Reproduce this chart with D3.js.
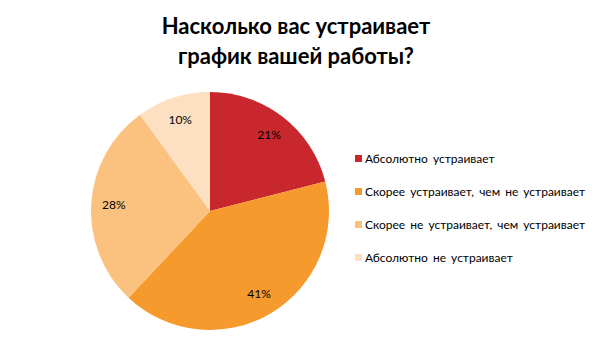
<!DOCTYPE html>
<html><head><meta charset="utf-8">
<script src="https://cdn.jsdelivr.net/npm/d3@7"></script>
<style>body{margin:0;background:#fff}</style>
</head><body>
<svg id="c" width="592" height="356"></svg>
<script>
const categories = ["Абсолютно устраивает","Скорее устраивает, чем не устраивает","Скорее не устраивает, чем устраивает","Абсолютно не устраивает"];
const values = [21, 41, 28, 10];
const colors = ["#C9272E","#F79A2E","#FBC27F","#FDDFC1"];
const titleLines = ["Насколько вас устраивает","график вашей работы?"];

const svg = d3.select("#c");
const font = "Lato, 'Open Sans', sans-serif";
svg.append("g").selectAll("text").data(titleLines).join("text")
  .attr("x", 296).attr("y", (d,i)=>34+i*30)
  .attr("text-anchor","middle").attr("font-family",font).attr("font-weight","bold")
  .attr("font-size",22).attr("fill","#000").text(d=>d);

const cx=210, cy=211, r=119;
const pie = d3.pie().sort(null).value(d=>d)(values);
const arc = d3.arc().innerRadius(0).outerRadius(r);
const labelArc = d3.arc().innerRadius(r*0.81).outerRadius(r*0.81);
const g = svg.append("g").attr("transform",`translate(${cx},${cy})`);
g.selectAll("path").data(pie).join("path").attr("d",arc).attr("fill",(d,i)=>colors[i]);
g.selectAll("text").data(pie).join("text")
  .attr("transform",d=>`translate(${labelArc.centroid(d)})`)
  .attr("text-anchor","middle").attr("dy","0.35em")
  .attr("font-family",font).attr("font-size",12).attr("fill","#000")
  .text(d=>d.data+"%");

const leg = svg.append("g").attr("transform","translate(355,159)");
const items = leg.selectAll("g").data(categories).join("g").attr("transform",(d,i)=>`translate(0,${i*33})`);
items.append("rect").attr("x",0).attr("y",-4).attr("width",7).attr("height",7).attr("fill",(d,i)=>colors[i]);
items.append("text").attr("x",10).attr("y",0).attr("dy","0.35em").attr("word-spacing",2)
  .attr("font-family",font).attr("font-size",12).attr("fill","#000").text(d=>d);
</script>
</body></html>
